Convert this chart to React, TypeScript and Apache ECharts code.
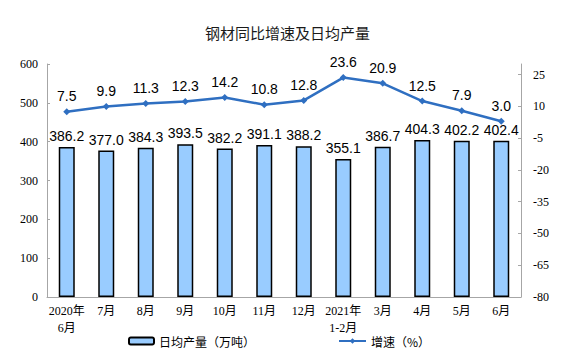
import React, { useEffect, useRef } from "react";
import * as echarts from "echarts";

const categories = ["2020年\n6月", "7月", "8月", "9月", "10月", "11月", "12月", "2021年\n1-2月", "3月", "4月", "5月", "6月"];
const dailyOutput = [386.2, 377.0, 384.3, 393.5, 382.2, 391.1, 388.2, 355.1, 386.7, 404.3, 402.2, 402.4];
const growthRate = [7.5, 9.9, 11.3, 12.3, 14.2, 10.8, 12.8, 23.6, 20.9, 12.5, 7.9, 3.0];
const rightTicks = [-80, -65, -50, -35, -20, -5, 10, 25];

const serif = "'Liberation Serif', 'Noto Sans CJK SC', serif";
const sans = "'Liberation Sans', Arial, sans-serif";
const cjk = "'Noto Sans CJK SC', sans-serif";

export default function App() {
  const ref = useRef<HTMLDivElement>(null);
  useEffect(() => {
    if (!ref.current) return;
    document.body.style.margin = "0";
    const chart = echarts.init(ref.current, null, { renderer: "svg" });
    const axisLineStyle = { color: "#a6a6a6", width: 1 };
    chart.setOption({
      animation: false,
      backgroundColor: "#ffffff",
      title: {
        text: "钢材同比增速及日均产量",
        left: 200,
        top: 20,
        textStyle: { fontSize: 15, fontWeight: "normal", color: "#1a1a1a", fontFamily: cjk },
      },
      legend: [
        {
          data: ["日均产量（万吨）"],
          left: 123,
          top: 330,
          itemWidth: 25,
          itemHeight: 7,
          textStyle: { fontSize: 12, color: "#000", fontFamily: cjk },
        },
        {
          data: ["增速（%）"],
          left: 333,
          top: 330,
          itemWidth: 27,
          itemHeight: 7,
          textStyle: { fontSize: 12, color: "#000", fontFamily: cjk },
        },
      ],
      grid: { left: 47, right: 54, top: 64, bottom: 59, containLabel: false },
      xAxis: {
        type: "category",
        data: categories,
        axisLine: { lineStyle: axisLineStyle },
        axisTick: { inside: true, length: 3, lineStyle: axisLineStyle },
        axisLabel: {
          color: "#000",
          fontSize: 12,
          fontFamily: serif,
          lineHeight: 17,
          margin: 5,
          interval: 0,
        },
      },
      yAxis: [
        {
          type: "value",
          min: 0,
          max: 600,
          interval: 100,
          axisLine: { show: true, lineStyle: axisLineStyle },
          axisTick: { show: true, inside: true, length: 3, lineStyle: axisLineStyle },
          splitLine: { show: false },
          axisLabel: { color: "#000", fontSize: 12, fontFamily: serif, margin: 9 },
        },
        {
          type: "value",
          min: -80,
          max: 30,
          position: "right",
          axisLine: { show: true, lineStyle: axisLineStyle },
          axisTick: { show: true, inside: true, length: 3, lineStyle: axisLineStyle, customValues: rightTicks },
          splitLine: { show: false },
          axisLabel: { color: "#000", fontSize: 12, fontFamily: serif, margin: 12, customValues: rightTicks },
        },
      ],
      series: [
        {
          name: "日均产量（万吨）",
          type: "bar",
          yAxisIndex: 0,
          data: dailyOutput,
          barWidth: 16,
          itemStyle: { color: "#99ccff", borderColor: "#000", borderWidth: 1.5 },
          label: {
            show: true,
            position: "top",
            distance: 4,
            fontSize: 14,
            color: "#000",
            fontFamily: sans,
            formatter: (p: any) => Number(p.value).toFixed(1),
          },
        },
        {
          name: "增速（%）",
          type: "line",
          yAxisIndex: 1,
          data: growthRate,
          symbol: "diamond",
          symbolSize: 7,
          lineStyle: { color: "#2f6fc1", width: 2.5 },
          itemStyle: { color: "#2f6fc1" },
          label: {
            show: true,
            position: "top",
            distance: 5,
            fontSize: 14,
            color: "#000",
            fontFamily: sans,
            formatter: (p: any) => Number(p.value).toFixed(1),
          },
        },
      ],
    });
    return () => chart.dispose();
  }, []);
  return <div ref={ref} style={{ width: 575, height: 356 }} />;
}
